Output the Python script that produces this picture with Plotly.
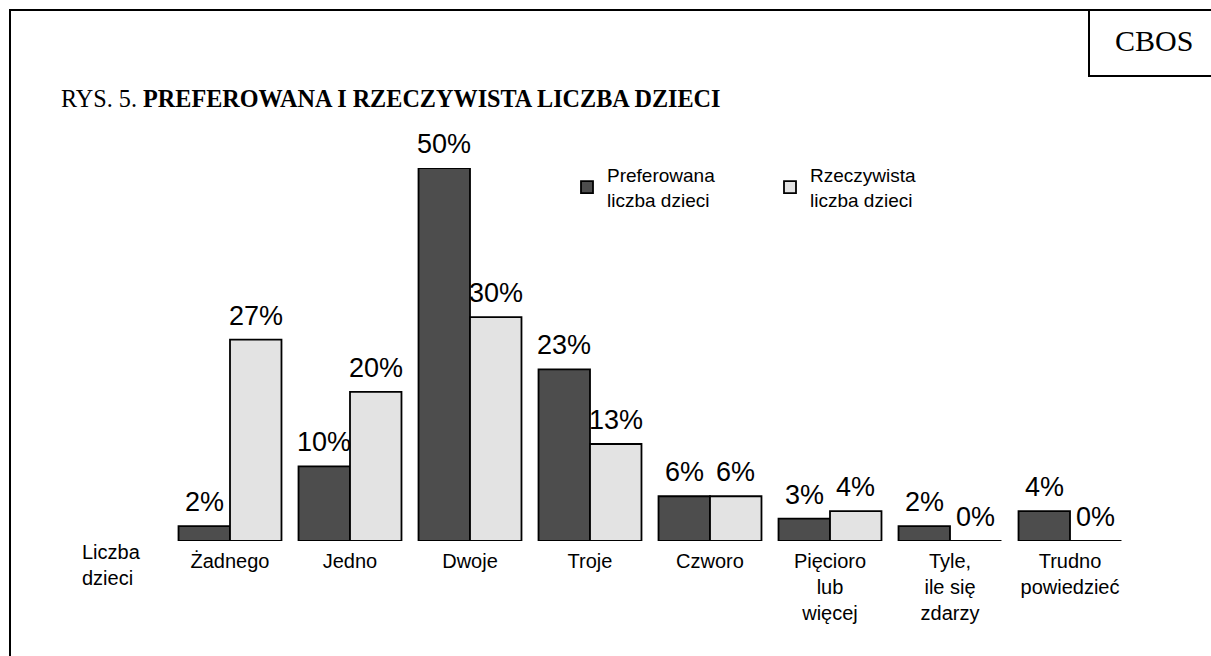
import plotly.graph_objects as go

categories = ["Żadnego", "Jedno", "Dwoje", "Troje", "Czworo",
              "Pięcioro<br>lub<br>więcej", "Tyle,<br>ile się<br>zdarzy", "Trudno<br>powiedzieć"]
preferowana = [2, 10, 50, 23, 6, 3, 2, 4]
rzeczywista = [27, 20, 30, 13, 6, 4, 0, 0]
series_names = ["Preferowana<br>liczba dzieci", "Rzeczywista<br>liczba dzieci"]
series_colors = ["#4d4d4d", "#e3e3e3"]

W, H = 1211, 656
BARGAP = 0.142
SANS = "Liberation Sans, Arial, sans-serif"
SERIF = "Liberation Serif, Times New Roman, serif"

def px_x(p):
    return p / W

def px_y(p):
    return 1 - p / H

fig = go.Figure()
for name, vals, col in zip(series_names, [preferowana, rzeczywista], series_colors):
    fig.add_trace(go.Bar(
        x=list(range(len(categories))), y=vals, name=name,
        marker=dict(color=col, line=dict(color="black", width=1.8)),
        hoverinfo="skip",
    ))

# value labels above bars
off = (1 - BARGAP) / 4
annotations = []
for k, vals in enumerate([preferowana, rzeczywista]):
    for i, v in enumerate(vals):
        annotations.append(dict(
            x=i + (-off if k == 0 else off), y=v, xref="x", yref="y",
            text=f"{v}%", showarrow=False, yanchor="bottom", xanchor="center",
            yshift=7, font=dict(family=SANS, size=27, color="black"),
        ))

annotations += [
    dict(x=px_x(59), y=px_y(98), xref="paper", yref="paper", xanchor="left", yanchor="middle",
         text="RYS. 5. <b>PREFEROWANA I RZECZYWISTA LICZBA DZIECI</b>", showarrow=False,
         font=dict(family=SERIF, size=24.2, color="black")),
    dict(x=px_x(1154), y=px_y(40), xref="paper", yref="paper", xanchor="center", yanchor="middle",
         text="CBOS", showarrow=False, font=dict(family=SERIF, size=30, color="black")),
    dict(x=px_x(80), y=px_y(565), xref="paper", yref="paper", xanchor="left", yanchor="middle",
         text="Liczba<br>dzieci", align="left", showarrow=False,
         font=dict(family=SANS, size=20, color="black")),
]

shapes = [
    dict(type="rect", xref="paper", yref="paper", x0=px_x(10), x1=1.02, y0=-0.02, y1=px_y(10),
         line=dict(color="black", width=2), fillcolor="rgba(0,0,0,0)", layer="above"),
    dict(type="rect", xref="paper", yref="paper", x0=px_x(1089), x1=1.02, y0=px_y(76), y1=px_y(10),
         line=dict(color="black", width=2), fillcolor="rgba(0,0,0,0)", layer="above"),
]

fig.update_layout(
    template="none",
    width=W, height=H,
    margin=dict(l=0, r=0, t=0, b=0),
    paper_bgcolor="white", plot_bgcolor="white",
    barmode="group", bargap=BARGAP, bargroupgap=0,
    showlegend=True,
    legend=dict(orientation="h", x=px_x(567), y=px_y(156), xanchor="left", yanchor="top",
                font=dict(family=SANS, size=19, color="black"),
                entrywidth=158, entrywidthmode="pixels", bgcolor="rgba(0,0,0,0)",
                traceorder="normal", valign="middle"),
    xaxis=dict(domain=[px_x(170), px_x(1130)], range=[-0.5, 7.5],
               tickmode="array", tickvals=list(range(len(categories))), ticktext=categories,
               showgrid=False, zeroline=False, showline=False, ticks="",
               ticklabelstandoff=6, automargin=False, fixedrange=True,
               tickfont=dict(family=SANS, size=20, color="black")),
    yaxis=dict(domain=[px_y(541), px_y(168)], range=[0, 50], visible=False,
               showgrid=False, zeroline=False, automargin=False, fixedrange=True),
    annotations=annotations,
    shapes=shapes,
    font=dict(family=SANS, color="black"),
    hovermode=False,
)

fig.write_html("out.html", config={"displayModeBar": False, "staticPlot": True},
               post_script="document.body.style.margin='0';document.body.style.overflow='hidden';")
